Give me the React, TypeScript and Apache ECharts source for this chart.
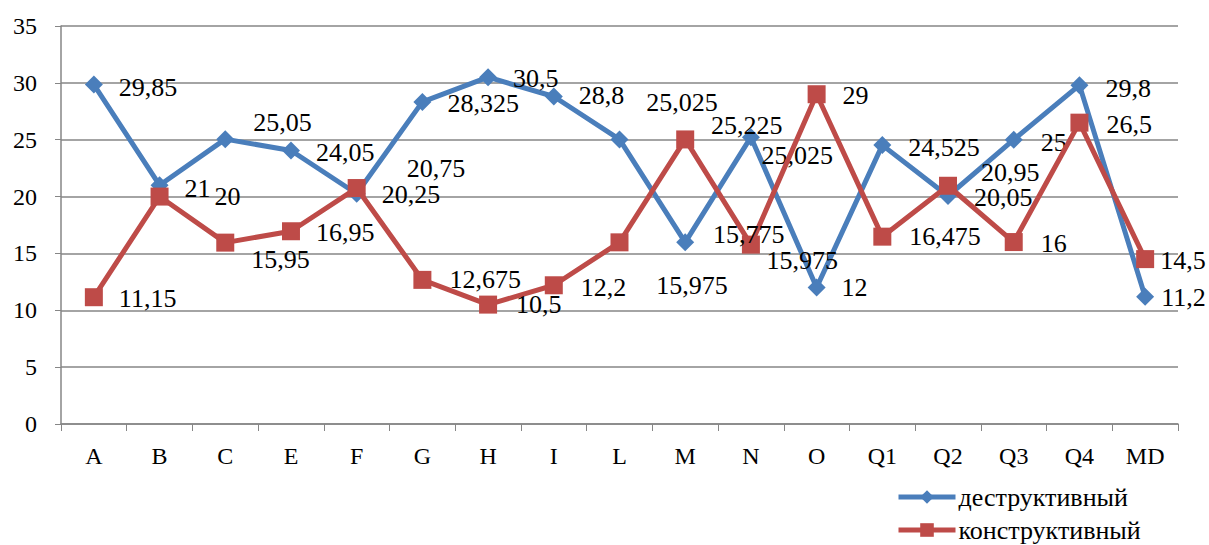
import React, { useEffect, useRef } from "react";
import * as echarts from "echarts";

const categories = ["A", "B", "C", "E", "F", "G", "H", "I", "L", "M", "N", "O", "Q1", "Q2", "Q3", "Q4", "MD"];
const destructive = [29.85, 21, 25.05, 24.05, 20.25, 28.325, 30.5, 28.8, 25.025, 15.975, 25.225, 12, 24.525, 20.05, 25, 29.8, 11.2];
const constructive = [11.15, 20, 15.95, 16.95, 20.75, 12.675, 10.5, 12.2, 15.975, 25.025, 15.775, 29, 16.475, 20.95, 16, 26.5, 14.5];
const yTicks = [0, 5, 10, 15, 20, 25, 30, 35];

// label nudges (layout only)
const destructiveLabelShift = [
  [0, 3], [0, 3], [3, -17], [0, 2], [0, 1], [0, 2], [0, 1], [0, -1], [117, 16],
  [-54, 43], [-65, -12], [0, 0], [1, 2], [1, 1], [2, 3], [1, 3], [-9, 1],
];
const constructiveLabelShift = [
  [0, 1], [30, 0], [1, 17], [0, 1], [25, -20], [2, 0], [3, 0], [2, 2], [122, 18],
  [-64, -37], [-63, -10], [1, 1], [2, 0], [8, -13], [2, 1], [2, 2], [-10, 1],
];

const FONT = "Liberation Serif, Times New Roman, serif";
const BLUE = "#4A7EBB";
const RED = "#BE4B48";

export default function App() {
  const ref = useRef<HTMLDivElement>(null);
  useEffect(() => {
    if (!ref.current) return;
    const chart = echarts.init(ref.current, undefined, { renderer: "svg" });
    const fmt = (p: any) => String(p.value).replace(".", ",");
    const mk = (vals: number[], shifts: number[][]) =>
      vals.map((v, i) => ({ value: v, label: { offset: shifts[i] } }));
    const labelStyle = {
      show: true,
      position: "right",
      distance: 16,
      formatter: fmt,
      fontFamily: FONT,
      fontSize: 26,
      color: "#000",
    };
    chart.setOption({
      animation: false,
      backgroundColor: "#ffffff",
      grid: { left: 61, right: 31, top: 26, height: 398, containLabel: false },
      legend: {
        orient: "vertical",
        left: 896,
        top: 484,
        padding: 0,
        itemGap: 7,
        itemWidth: 57,
        itemHeight: 17,
        lineStyle: { width: 5 },
        textStyle: { fontFamily: FONT, fontSize: 26, lineHeight: 26, color: "#000", padding: [0, 0, 0, -2] },
        data: ["деструктивный", "конструктивный"],
      },
      xAxis: {
        type: "category",
        data: categories,
        boundaryGap: true,
        axisLine: { lineStyle: { color: "#868686", width: 1.5 } },
        axisTick: { show: true, length: 7, inside: false, lineStyle: { color: "#868686" } },
        axisLabel: { fontFamily: FONT, fontSize: 24, color: "#000", margin: 20 },
      },
      yAxis: {
        type: "value",
        min: yTicks[0],
        max: yTicks[yTicks.length - 1],
        interval: 5,
        axisLine: { show: true, lineStyle: { color: "#868686", width: 1.5 } },
        axisTick: { show: true, length: 6, lineStyle: { color: "#868686" } },
        axisLabel: { fontFamily: FONT, fontSize: 24, color: "#000", margin: 24 },
        splitLine: { show: true, lineStyle: { color: "#868686", width: 1.5 } },
      },
      series: [
        {
          name: "деструктивный",
          type: "line",
          data: mk(destructive, destructiveLabelShift),
          symbol: "diamond",
          symbolSize: 18,
          lineStyle: { color: BLUE, width: 5 },
          itemStyle: { color: BLUE },
          label: labelStyle,
          z: 3,
        },
        {
          name: "конструктивный",
          type: "line",
          data: mk(constructive, constructiveLabelShift),
          symbol: "rect",
          symbolSize: 18,
          lineStyle: { color: RED, width: 5 },
          itemStyle: { color: RED },
          label: labelStyle,
          z: 4,
        },
      ],
    });
    return () => chart.dispose();
  }, []);
  return (
    <div
      ref={ref}
      style={{ position: "absolute", left: 0, top: 0, width: 1209, height: 545, background: "#fff" }}
    />
  );
}
